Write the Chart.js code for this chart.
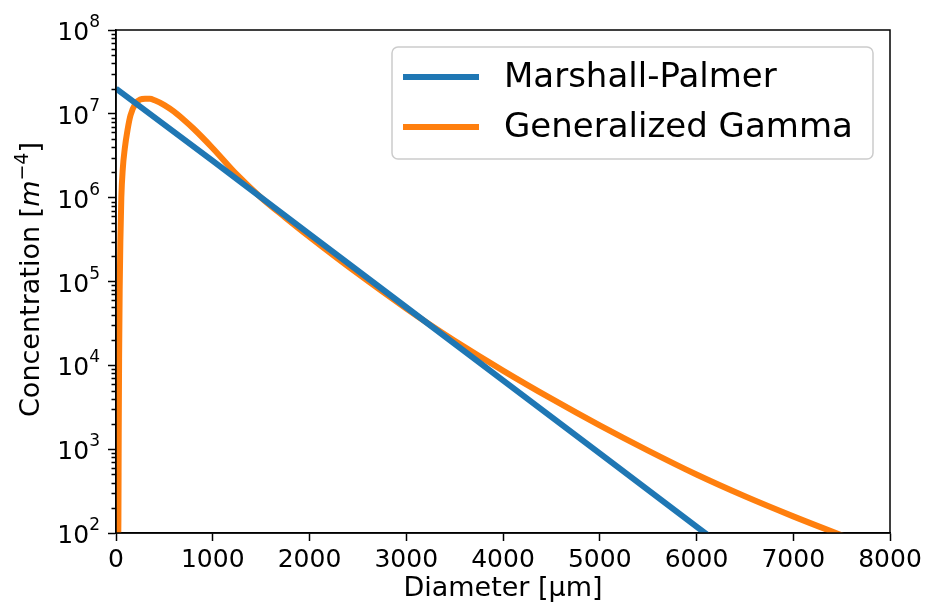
<!DOCTYPE html>
<html>
<head>
<meta charset="utf-8">
<script src="https://cdn.jsdelivr.net/npm/chart.js@4/dist/chart.umd.min.js"></script>
<style>
  html, body { margin: 0; padding: 0; background: #fff; }
  #wrap { width: 932px; height: 614px; }
</style>
</head>
<body>
<div id="wrap"><canvas id="dsd" width="932" height="614"></canvas></div>
<script>
// drop size distributions, diameter in µm, concentration in m^-4
const mpDiameter = [0, 1000, 2000, 3000, 4000, 5000, 6000, 6200];
const mpConc = [2.0e7, 2.74e6, 3.68e5, 4.93e4, 6.6e3, 890, 119, 80];

const ggDiameter = [22, 25, 28, 32, 38, 45, 55, 70, 90, 120, 150, 200, 250, 300, 350, 400,
  500, 600, 700, 800, 1000, 1250, 1500, 1750, 2000, 2500, 3000, 3250, 3500, 4000, 4500,
  5000, 5500, 6000, 6500, 7000, 7500, 7700];
const ggConc = [60, 150, 1.5e3, 1.2e4, 8e4, 3e5, 1.0e6, 2.2e6, 3.8e6, 6.5e6, 9.6e6, 1.32e7, 1.48e7, 1.51e7, 1.51e7, 1.45e7,
  1.27e7, 1.06e7, 8.5e6, 6.68e6, 3.89e6, 1.88e6, 1.0e6, 5.79e5, 3.41e5, 1.24e5, 4.76e4, 3.02e4, 1.96e4, 8.66e3, 4.0e3,
  1.92e3, 960, 498, 274, 158, 94, 77];

const seriesNames = ['Marshall-Palmer', 'Generalized Gamma'];
const seriesColors = ['#1f77b4', '#ff7f0e'];
const xTickValues = [0, 1000, 2000, 3000, 4000, 5000, 6000, 7000, 8000];
const yTickExponents = [2, 3, 4, 5, 6, 7, 8];

const FONT = '"DejaVu Sans", sans-serif';

function toPoints(xs, ys) {
  return xs.map((x, i) => ({ x: x, y: ys[i] }));
}

// frame, minor ticks, power-of-ten labels, axis titles and legend box
const decorations = {
  id: 'decorations',
  afterDraw(chart) {
    const ctx = chart.ctx;
    const area = chart.chartArea;
    const yScale = chart.scales.y;

    ctx.save();
    ctx.strokeStyle = '#000';
    ctx.lineWidth = 1.5;

    // minor ticks on the log axis
    ctx.beginPath();
    for (let e = 2; e < 8; e++) {
      for (let k = 2; k <= 9; k++) {
        const py = Math.round(yScale.getPixelForValue(k * Math.pow(10, e))) + 0.5;
        ctx.moveTo(area.left - 4.5, py);
        ctx.lineTo(area.left, py);
      }
    }
    ctx.stroke();

    // axes box
    ctx.strokeRect(area.left, area.top, area.right - area.left, area.bottom - area.top);

    // 10^n labels
    ctx.fillStyle = '#000';
    ctx.textBaseline = 'alphabetic';
    yTickExponents.forEach(function (e) {
      const py = yScale.getPixelForValue(Math.pow(10, e));
      const right = area.left - 16;
      ctx.font = '17px ' + FONT;
      const supW = ctx.measureText(String(e)).width;
      ctx.textAlign = 'right';
      ctx.fillText(String(e), right, py - 3);
      ctx.font = '25px ' + FONT;
      ctx.fillText('10', right - supW, py + 10);
    });

    // x title
    ctx.font = '27px ' + FONT;
    ctx.textAlign = 'center';
    ctx.fillText('Diameter [µm]', (area.left + area.right) / 2, 596);

    // y title with italic m and superscript -4
    const parts = [
      { t: 'Concentration [', f: '27px ' + FONT, dy: 0 },
      { t: 'm', f: 'italic 27px ' + FONT, dy: 0 },
      { t: '\u22124', f: '19px ' + FONT, dy: -11 },
      { t: ']', f: '27px ' + FONT, dy: 0 }
    ];
    let total = 0;
    parts.forEach(function (p) { ctx.font = p.f; p.w = ctx.measureText(p.t).width; total += p.w; });
    ctx.translate(39, (area.top + area.bottom) / 2 - 2);
    ctx.rotate(-Math.PI / 2);
    ctx.textAlign = 'left';
    let cx = -total / 2;
    parts.forEach(function (p) {
      ctx.font = p.f;
      ctx.fillText(p.t, cx, p.dy);
      cx += p.w;
    });
    ctx.setTransform(1, 0, 0, 1, 0, 0);

    // legend
    const bx = 392, by = 47, bw = 481, bh = 112, r = 6;
    ctx.beginPath();
    ctx.moveTo(bx + r, by);
    ctx.arcTo(bx + bw, by, bx + bw, by + bh, r);
    ctx.arcTo(bx + bw, by + bh, bx, by + bh, r);
    ctx.arcTo(bx, by + bh, bx, by, r);
    ctx.arcTo(bx, by, bx + bw, by, r);
    ctx.closePath();
    ctx.fillStyle = 'rgba(255,255,255,0.8)';
    ctx.fill();
    ctx.strokeStyle = '#cccccc';
    ctx.lineWidth = 1.5;
    ctx.stroke();

    chart.data.datasets.forEach(function (ds, i) {
      const ly = 77 + i * 50;
      ctx.beginPath();
      ctx.strokeStyle = ds.borderColor;
      ctx.lineWidth = 6;
      ctx.moveTo(403, ly);
      ctx.lineTo(479, ly);
      ctx.stroke();
      ctx.fillStyle = '#000';
      ctx.font = '34px ' + FONT;
      ctx.textAlign = 'left';
      ctx.textBaseline = 'middle';
      ctx.fillText(ds.label, 504, ly + 1);
    });
    ctx.restore();
  }
};

new Chart(document.getElementById('dsd'), {
  type: 'line',
  data: {
    datasets: [
      {
        label: seriesNames[0],
        data: toPoints(mpDiameter, mpConc),
        borderColor: seriesColors[0],
        borderWidth: 6,
        pointRadius: 0,
        tension: 0,
        clip: 0
      },
      {
        label: seriesNames[1],
        data: toPoints(ggDiameter, ggConc),
        borderColor: seriesColors[1],
        borderWidth: 6,
        pointRadius: 0,
        cubicInterpolationMode: 'monotone',
        clip: 0
      }
    ]
  },
  plugins: [decorations],
  options: {
    responsive: false,
    animation: false,
    layout: { padding: { top: 30, right: 42, left: 0, bottom: 0 } },
    plugins: { legend: { display: false }, tooltip: { enabled: false } },
    scales: {
      x: {
        type: 'linear',
        min: 0,
        max: 8000,
        afterBuildTicks: function (scale) {
          scale.ticks = xTickValues.map(function (v) { return { value: v }; });
        },
        afterFit: function (scale) { scale.height = 81; },
        ticks: {
          color: '#000',
          font: { family: FONT, size: 25 },
          padding: 4,
          maxRotation: 0,
          callback: function (v) { return String(v); }
        },
        grid: { drawOnChartArea: false, tickLength: 8, tickColor: '#000', tickWidth: 1.5 },
        border: { color: '#000', width: 1.5 }
      },
      y: {
        type: 'logarithmic',
        min: 100,
        max: 1e8,
        afterBuildTicks: function (scale) {
          scale.ticks = yTickExponents.map(function (e) { return { value: Math.pow(10, e) }; });
        },
        afterFit: function (scale) { scale.width = 116; },
        ticks: { display: false },
        grid: { drawOnChartArea: false, tickLength: 8, tickColor: '#000', tickWidth: 1.5 },
        border: { color: '#000', width: 1.5 }
      }
    }
  }
});
</script>
</body>
</html>
